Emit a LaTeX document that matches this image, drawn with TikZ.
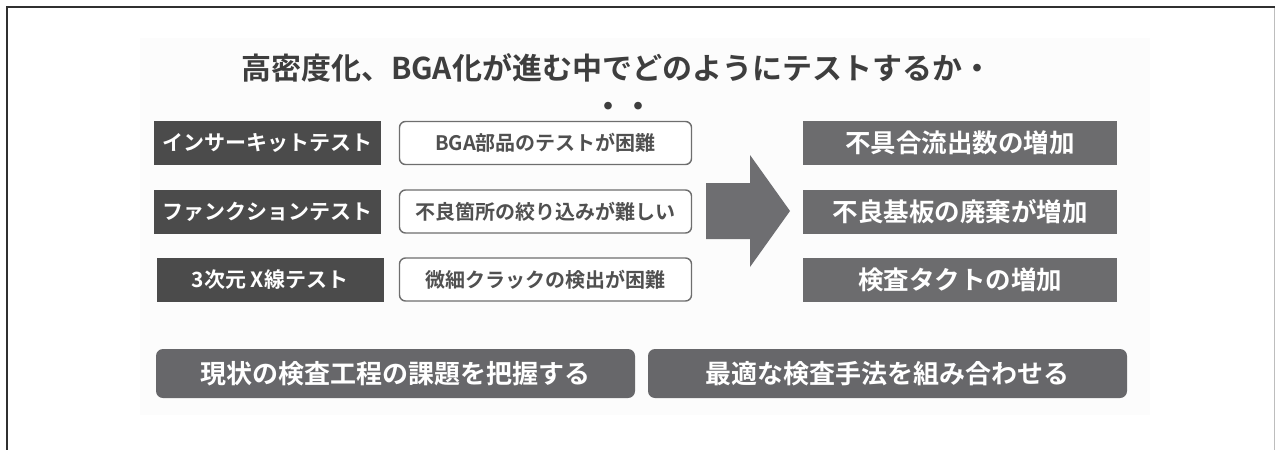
\documentclass[tikz,border=0pt]{standalone}
\usepackage{fontspec}
\setmainfont{Noto Sans CJK JP}[BoldFont={Noto Sans CJK JP Bold}]
\definecolor{cframe}{HTML}{303030}
\definecolor{cframeR}{HTML}{BDBDBD}
\definecolor{cbg}{HTML}{FCFCFC}
\definecolor{ctitle}{HTML}{3E3E3E}
\definecolor{cdark}{HTML}{4B4B4B}
\definecolor{cborder}{HTML}{6E6E6E}
\definecolor{ctext}{HTML}{505050}
\definecolor{cmid}{HTML}{6C6C6E}
\definecolor{carrow}{HTML}{6E6E71}
\definecolor{cbot}{HTML}{67676A}
\begin{document}
\begin{tikzpicture}[x=1pt,y=-1pt,
  darkbox/.style={fill=cdark, text=white, font=\bfseries\fontsize{21}{22}\selectfont,
    minimum width=227pt, minimum height=44pt, inner sep=0pt},
  probbox/.style={draw=cborder, line width=1.4pt, rounded corners=6pt, fill=white, text=ctext,
    font=\bfseries\fontsize{20}{21}\selectfont, minimum width=292pt, minimum height=43pt, inner sep=0pt},
  effbox/.style={fill=cmid, text=white, font=\bfseries\fontsize{25.5}{26}\selectfont,
    minimum width=314pt, minimum height=44pt, inner sep=0pt},
  actbox/.style={fill=cbot, rounded corners=7pt, text=white, font=\bfseries\fontsize{26}{27}\selectfont,
    minimum width=479pt, minimum height=49pt, inner sep=0pt},
  titlefont/.style={text=ctitle, font=\bfseries\fontsize{30}{31}\selectfont, inner sep=0pt}
]
\useasboundingbox (0,0) rectangle (1275,450);
% faint backdrop
\fill[cbg] (140,38) rectangle (1150,415);
% frame
\draw[cframeR, line width=1pt] (1274,7) -- (1274,450);
\draw[cframe, line width=2pt] (7,450) -- (7,7) -- (1275,7);
% title
\node[titlefont, anchor=west] (title) at (241,68) {高密度化、BGA化が進む中でどのようにテストするか・};
\node[titlefont] (dots) at (623,110) {・・};
% left column
\node[darkbox] (t1) at (267,143) {インサーキットテスト};
\node[darkbox] (t2) at (267,211.5) {ファンクションテスト};
\node[darkbox] (t3) at (270,279.5) {3次元 X線テスト};
% problem column
\node[probbox] (p1) at (545.5,143) {BGA部品のテストが困難};
\node[probbox] (p2) at (545.5,211.5) {不良箇所の絞り込みが難しい};
\node[probbox] (p3) at (545.5,279.5) {微細クラックの検出が困難};
% big arrow
\fill[carrow] (706,183) -- (750,183) -- (750,155) -- (790,211) -- (750,267) -- (750,239) -- (706,239) -- cycle;
% effects
\node[effbox] (e1) at (960,143) {不具合流出数の増加};
\node[effbox] (e2) at (960,211.5) {不良基板の廃棄が増加};
\node[effbox] (e3) at (960,279.5) {検査タクトの増加};
% actions
\node[actbox] (a1) at (395.5,373.5) {現状の検査工程の課題を把握する};
\node[actbox] (a2) at (887.5,373.5) {最適な検査手法を組み合わせる};
\end{tikzpicture}
\end{document}
